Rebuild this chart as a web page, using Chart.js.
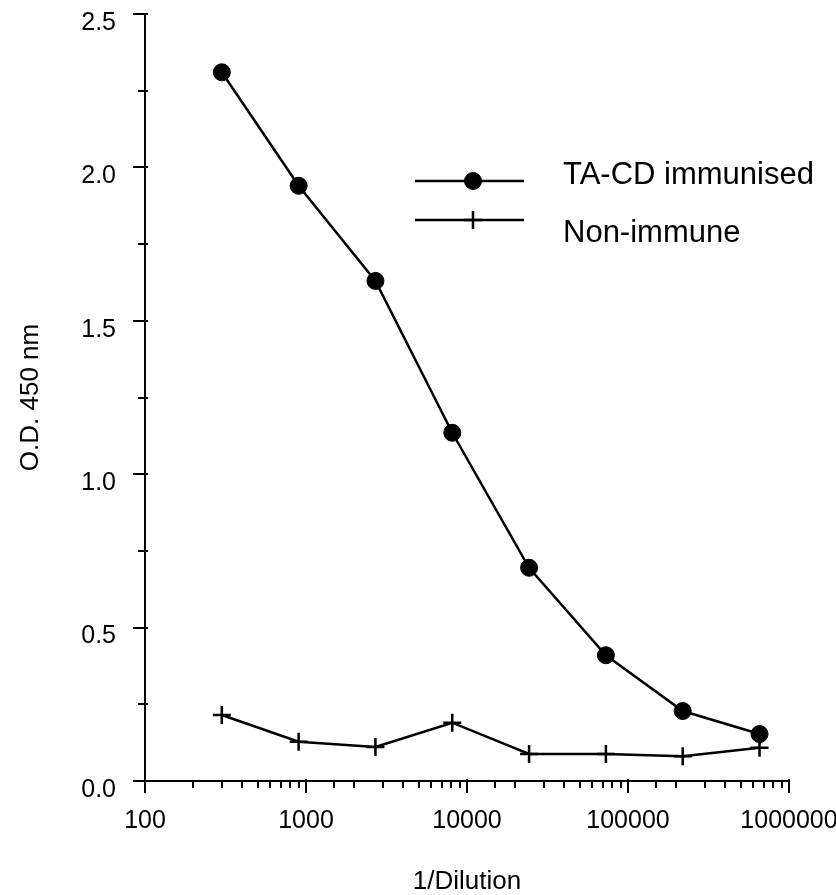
<!DOCTYPE html>
<html>
<head>
<meta charset="utf-8">
<script src="https://cdn.jsdelivr.net/npm/chart.js@4/dist/chart.umd.min.js"></script>
<style>
html,body{margin:0;padding:0;background:#fff;}
canvas{display:block;}
</style>
</head>
<body>
<canvas id="c" width="836" height="895"></canvas>
<script>
// ---- data ----
const dilutions = [300, 900, 2700, 8100, 24300, 72900, 218700, 656100];
const immunised = [2.31, 1.94, 1.63, 1.135, 0.695, 0.41, 0.228, 0.153];
const nonImmune = [0.215, 0.128, 0.111, 0.19, 0.088, 0.088, 0.081, 0.108];
const seriesNames = ['TA-CD immunised', 'Non-immune'];
const xTitle = '1/Dilution';
const yTitle = 'O.D. 450 nm';
const yTickLabels = ['0.0', '0.5', '1.0', '1.5', '2.0', '2.5'];

const FONT = "'Liberation Sans', Arial, Helvetica, sans-serif";

const tickPlugin = {
  id: 'customTicks',
  afterDraw(chart) {
    const ctx = chart.ctx;
    const xs = chart.scales.x, ys = chart.scales.y;
    const area = chart.chartArea;
    ctx.save();
    ctx.strokeStyle = '#000';
    ctx.lineWidth = 2;
    xs.ticks.forEach(t => {
      const l = Math.log10(t.value);
      const major = Math.abs(l - Math.round(l)) < 1e-9;
      const px = Math.round(xs.getPixelForValue(t.value));
      ctx.beginPath();
      ctx.moveTo(px, area.bottom - (major ? 2 : 1));
      ctx.lineTo(px, area.bottom + (major ? 12 : 7));
      ctx.stroke();
    });
    ys.ticks.forEach(t => {
      const major = Math.abs(t.value * 2 - Math.round(t.value * 2)) < 1e-9;
      const py = Math.round(ys.getPixelForValue(t.value));
      ctx.beginPath();
      ctx.moveTo(area.left - (major ? 12 : 7), py);
      ctx.lineTo(area.left + 3, py);
      ctx.stroke();
    });
    // legend
    const items = [
      {ds: chart.data.datasets[0], y: 181, ty: 175},
      {ds: chart.data.datasets[1], y: 220, ty: 233}
    ];
    items.forEach(it => {
      ctx.strokeStyle = '#000';
      ctx.lineWidth = 2.5;
      ctx.beginPath();
      ctx.moveTo(415, it.y);
      ctx.lineTo(524, it.y);
      ctx.stroke();
      ctx.fillStyle = '#000';
      ctx.strokeStyle = '#000';
      ctx.lineWidth = it.ds.pointBorderWidth;
      Chart.helpers.drawPoint(ctx, {
        pointStyle: it.ds.pointStyle,
        radius: it.ds.pointRadius,
        borderWidth: it.ds.pointBorderWidth,
        rotation: 0
      }, 473, it.y);
      ctx.fillStyle = '#000';
      ctx.font = '31px ' + FONT;
      ctx.textAlign = 'left';
      ctx.textBaseline = 'middle';
      ctx.fillText(it.ds.label, 563, it.ty);
    });
    ctx.restore();
  }
};

new Chart(document.getElementById('c'), {
  type: 'line',
  data: {
    datasets: [
      {
        label: seriesNames[0],
        data: dilutions.map((d, i) => ({x: d, y: immunised[i]})),
        borderColor: '#000',
        borderWidth: 2.5,
        backgroundColor: '#000',
        pointStyle: 'circle',
        pointRadius: 8.5,
        pointBorderWidth: 1,
        pointBackgroundColor: '#000',
        pointBorderColor: '#000',
        tension: 0,
        clip: false
      },
      {
        label: seriesNames[1],
        data: dilutions.map((d, i) => ({x: d, y: nonImmune[i]})),
        borderColor: '#000',
        borderWidth: 2.5,
        backgroundColor: '#000',
        pointStyle: 'cross',
        pointRadius: 9,
        pointBorderWidth: 2.5,
        pointBackgroundColor: '#000',
        pointBorderColor: '#000',
        tension: 0,
        clip: false
      }
    ]
  },
  options: {
    responsive: false,
    animation: false,
    devicePixelRatio: 1,
    layout: {padding: {left: 0, top: 14, right: 47, bottom: 0}},
    plugins: {legend: {display: false}, tooltip: {enabled: false}},
    scales: {
      x: {
        type: 'logarithmic',
        min: 100,
        max: 1000000,
        grid: {display: true, drawOnChartArea: false, drawTicks: true, tickLength: 12, tickColor: 'rgba(0,0,0,0)'},
        border: {display: true, color: '#000', width: 2},
        ticks: {
          autoSkip: false,
          maxRotation: 0,
          padding: 13,
          color: '#000',
          font: {family: FONT, size: 25},
          callback: (v) => {
            const l = Math.log10(v);
            return Math.abs(l - Math.round(l)) < 1e-9 ? String(Math.round(v)) : '';
          }
        },
        title: {display: true, text: xTitle, color: '#000', font: {family: FONT, size: 26, lineHeight: 1}, padding: {top: 0, bottom: 0}},
        afterFit: (s) => { s.height = 114; s.paddingLeft = 0; s.paddingRight = 0; }
      },
      y: {
        type: 'linear',
        min: 0,
        max: 2.5,
        grid: {display: true, drawOnChartArea: false, drawTicks: true, tickLength: 12, tickColor: 'rgba(0,0,0,0)'},
        border: {display: true, color: '#000', width: 2},
        ticks: {
          stepSize: 0.25,
          autoSkip: false,
          padding: 17,
          labelOffset: 9,
          color: '#000',
          font: {family: FONT, size: 25},
          callback: (v) => {
            const k = v * 2;
            if (Math.abs(k - Math.round(k)) > 1e-9) return '';
            return yTickLabels[Math.round(k)];
          }
        },
        title: {display: true, text: yTitle, color: '#000', font: {family: FONT, size: 26, lineHeight: 1}, padding: {top: 18, bottom: 0}},
        afterFit: (s) => { s.width = 145; s.paddingTop = 0; s.paddingBottom = 0; }
      }
    }
  },
  plugins: [tickPlugin]
});
</script>
</body>
</html>
